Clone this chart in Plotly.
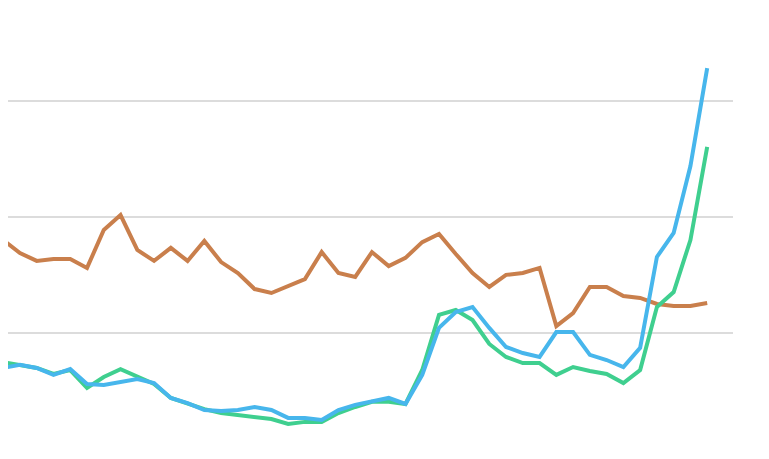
import plotly.graph_objects as go

# x categories (periods), index based
periods = list(range(43))

brown = [90.2, 84.6, 81.2, 82.0, 82.0, 78.2, 94.5, 100.9, 85.9, 81.2,
         86.8, 81.2, 89.8, 80.7, 76.0, 69.1, 67.4, 70.4, 73.4, 85.0,
         76.0, 74.3, 85.0, 79.0, 82.5, 89.3, 92.8, 84.2, 76.0, 70.0,
         75.2, 76.0, 78.2, 53.2, 58.8, 70.0, 70.0, 66.1, 65.3, 62.7,
         61.8, 61.8, 63.1]

green = [37.7, 36.5, 35.2, 32.6, 34.3, 26.6, 31.3, 34.7, 31.3, 28.3,
         22.3, 20.1, 17.5, 15.8, 15.0, 14.1, 13.2, 11.1, 12.0, 12.0,
         15.8, 18.4, 20.6, 20.6, 19.7, 34.3, 58.0, 60.1, 55.8, 45.5,
         39.9, 37.3, 37.3, 32.2, 35.6, 33.9, 32.6, 28.7, 34.3, 61.4,
         67.8, 90.2, 130.2]

blue = [35.2, 36.5, 35.2, 32.2, 34.7, 28.3, 27.9, 29.1, 30.4, 28.7,
        22.3, 20.1, 17.1, 16.7, 17.1, 18.4, 17.1, 13.7, 13.7, 12.8,
        17.1, 19.3, 21.0, 22.3, 19.7, 32.2, 52.4, 59.2, 61.4, 52.4,
        44.2, 41.6, 39.9, 50.6, 50.6, 40.8, 38.6, 35.6, 43.8, 82.9,
        93.2, 122.0, 164.1]

grid_vals = [50, 100, 150]

fig = go.Figure()
fig.add_trace(go.Scatter(x=periods, y=brown, mode="lines",
                         line=dict(color="#c97f4c", width=4), name="A"))
fig.add_trace(go.Scatter(x=periods, y=green, mode="lines",
                         line=dict(color="#3fcf8f", width=4), name="B"))
fig.add_trace(go.Scatter(x=periods, y=blue, mode="lines",
                         line=dict(color="#47b6ec", width=4), name="C"))

fig.update_layout(
    width=761, height=451,
    margin=dict(l=0, r=36, t=0, b=0),
    paper_bgcolor="white", plot_bgcolor="white",
    showlegend=False,
    xaxis=dict(range=[0.286, 43.54], showgrid=False, zeroline=False,
               showticklabels=False, ticks="", showline=False),
    yaxis=dict(range=[-3.96, 189.94], tickvals=grid_vals, showgrid=True,
               gridcolor="#dcdcdc", gridwidth=2, zeroline=False,
               showticklabels=False, ticks="", showline=False),
)

fig.write_html("out.html")
